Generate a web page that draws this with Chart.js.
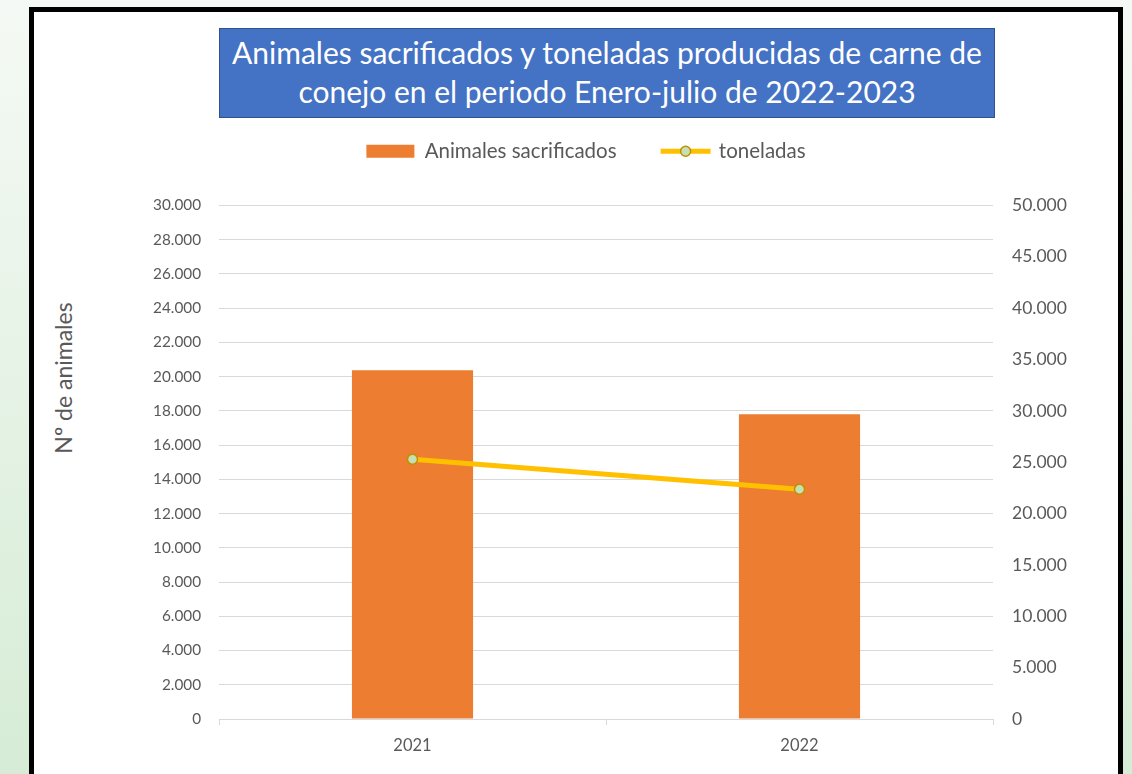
<!DOCTYPE html>
<html>
<head>
<meta charset="utf-8">
<script src="https://cdn.jsdelivr.net/npm/chart.js@4.4.0/dist/chart.umd.min.js"></script>
<style>
  html, body { margin: 0; padding: 0; }
  body {
    width: 1132px; height: 774px; overflow: hidden; position: relative;
    background: linear-gradient(#f5f9f5, #d6ecd6);
    font-family: Lato, "Open Sans", sans-serif;
  }
  #frame {
    position: absolute; left: 29px; top: 7px; width: 1084px; height: 800px;
    background: #fff; border: 5px solid #000;
  }
  #chartTitle {
    position: absolute; left: 219px; top: 28px; width: 774px; height: 84px;
    background: #4472c4; border: 1px solid #2f528f;
    color: #fff; font-size: 30px; line-height: 39px; text-align: center;
    padding-top: 4px; box-sizing: content-box;
  }
  #yTitle {
    position: absolute; left: 63px; top: 378px;
    transform: translate(-50%, -50%) rotate(-90deg);
    white-space: nowrap; color: #595959; font-size: 23px;
  }
  #chart { position: absolute; left: 0; top: 0; }
</style>
</head>
<body>
<div id="frame"></div>
<div id="chartTitle">Animales sacrificados y toneladas producidas de carne de<br>conejo en el periodo Enero-julio de 2022-2023</div>
<div id="yTitle">Nº de animales</div>
<canvas id="chart" width="1132" height="774"></canvas>
<script>
const years = ['2021', '2022'];
const animales = [20370, 17800];
const toneladas = [25300, 22380];

const fmt = (v) => String(v).replace(/\B(?=(\d{3})+(?!\d))/g, '.');

// extra room under the legend, like the excel original
const legendSpace = {
  id: 'legendSpace',
  afterInit(chart) {
    const lg = chart.legend;
    if (!lg) return;
    const fit = lg.fit;
    lg.fit = function () {
      fit.call(this);
      this.height += 34;
    };
  }
};

// draw the excel style line marker in the legend
const legendLineMarker = {
  id: 'legendLineMarker',
  afterDraw(chart) {
    const legend = chart.legend;
    if (!legend || !legend.legendHitBoxes[1]) return;
    const box = legend.legendHitBoxes[1];
    const ctx = chart.ctx;
    const y = box.top + box.height / 2;
    ctx.save();
    ctx.strokeStyle = '#ffc000';
    ctx.lineWidth = 5;
    ctx.beginPath();
    ctx.moveTo(box.left, y);
    ctx.lineTo(box.left + 50, y);
    ctx.stroke();
    ctx.beginPath();
    ctx.arc(box.left + 25, y, 5, 0, Math.PI * 2);
    ctx.fillStyle = '#c5e0b4';
    ctx.fill();
    ctx.lineWidth = 1.5;
    ctx.strokeStyle = '#bf9000';
    ctx.stroke();
    ctx.restore();
  }
};

new Chart(document.getElementById('chart').getContext('2d'), {
  data: {
    labels: years,
    datasets: [
      {
        type: 'bar',
        label: 'Animales sacrificados',
        data: animales,
        backgroundColor: '#ed7d31',
        yAxisID: 'y',
        categoryPercentage: 1,
        barPercentage: 0.313,
        order: 1,
      },
      {
        type: 'line',
        label: 'toneladas',
        data: toneladas,
        borderColor: '#ffc000',
        borderWidth: 5,
        pointRadius: 5,
        pointBackgroundColor: '#c5e0b4',
        pointBorderColor: '#bf9000',
        pointBorderWidth: 1.5,
        yAxisID: 'y1',
        order: 0,
      },
    ],
  },
  options: {
    responsive: false,
    animation: false,
    layout: { padding: { left: 40, right: 0, top: 97, bottom: 0 } },
    plugins: {
      tooltip: { enabled: false },
      legend: {
        position: 'top',
        labels: {
          color: '#595959',
          font: { family: 'Lato', size: 20.5 },
          boxWidth: 48,
          boxHeight: 13,
          padding: 44,
          generateLabels(chart) {
            const items = Chart.defaults.plugins.legend.labels.generateLabels(chart);
            items.forEach((it) => {
              if (it.datasetIndex === 1) {
                it.fillStyle = 'rgba(0,0,0,0)';
                it.strokeStyle = 'rgba(0,0,0,0)';
                it.lineWidth = 0;
              } else {
                it.lineWidth = 0;
              }
            });
            return items.sort((a, b) => a.datasetIndex - b.datasetIndex);
          },
        },
      },
    },
    scales: {
      x: {
        offset: true,
        grid: {
          offset: true,
          drawOnChartArea: false,
          drawTicks: true,
          tickLength: 6,
          color: '#d9d9d9',
        },
        border: { color: '#d9d9d9' },
        ticks: { color: '#595959', font: { family: 'Lato', size: 16.5 }, padding: 11 },
        afterFit(scale) { scale.height = 55; },
      },
      y: {
        position: 'left',
        min: 0,
        max: 30000,
        ticks: {
          stepSize: 2000,
          color: '#595959',
          font: { family: 'Lato', size: 15.3 },
          padding: 18,
          callback: (v) => fmt(v),
        },
        grid: { color: '#d9d9d9', drawTicks: false },
        border: { display: false },
        afterFit(scale) { scale.width = 179; },
      },
      y1: {
        position: 'right',
        min: 0,
        max: 50000,
        ticks: {
          stepSize: 5000,
          color: '#595959',
          font: { family: 'Lato', size: 17.5 },
          padding: 19,
          callback: (v) => fmt(v),
        },
        grid: { display: false, drawTicks: false },
        border: { display: false },
        afterFit(scale) { scale.width = 139; },
      },
    },
  },
  plugins: [legendSpace, legendLineMarker],
});
</script>
</body>
</html>
